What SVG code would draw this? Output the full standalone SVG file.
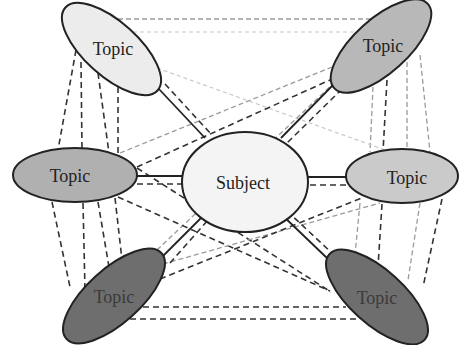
<svg xmlns="http://www.w3.org/2000/svg" width="462" height="345" viewBox="0 0 462 345">
<style>
.d{stroke:#333;stroke-width:1.6;stroke-dasharray:6,4;fill:none}
.g{stroke:#9a9a9a;stroke-width:1.3;stroke-dasharray:5,3;fill:none}
.l{stroke:#c8c8c8;stroke-width:1.2;stroke-dasharray:4,3;fill:none}
.s{stroke:#222;stroke-width:1.8;fill:none}
.n{stroke:#222;stroke-width:2}
text{font-family:"Liberation Serif","Times New Roman",serif;font-size:18px;text-anchor:middle;dominant-baseline:central;fill:#222}
.dk{fill:#3a3a3a}
</style>
<rect width="462" height="345" fill="#fff"/>
<g id="connectors">
<!-- TL-TR -->
<line class="g" x1="118" y1="19" x2="371" y2="19"/>
<line class="l" x1="133" y1="32" x2="366" y2="32"/>
<!-- TL-ML -->
<line class="d" x1="76" y1="50" x2="58" y2="150"/>
<line class="d" x1="81" y1="62" x2="82" y2="150"/>
<line class="d" x1="98" y1="73" x2="109" y2="153"/>
<line class="d" x1="118" y1="87" x2="118" y2="155"/>
<!-- ML-BL -->
<line class="d" x1="52" y1="202" x2="70" y2="287"/>
<line class="d" x1="83" y1="203" x2="85" y2="290"/>
<line class="d" x1="98" y1="202" x2="110" y2="273"/>
<line class="d" x1="115" y1="198" x2="122" y2="260"/>
<!-- TR-MR -->
<line class="g" x1="373" y1="87" x2="370" y2="152"/>
<line class="d" x1="387" y1="80" x2="383" y2="152"/>
<line class="g" x1="407" y1="62" x2="407" y2="150"/>
<line class="g" x1="420" y1="55" x2="430" y2="152"/>
<!-- MR-BR -->
<line class="g" x1="360" y1="203" x2="355" y2="255"/>
<line class="d" x1="382" y1="204" x2="378" y2="267"/>
<line class="g" x1="420" y1="203" x2="408" y2="280"/>
<line class="d" x1="442" y1="199" x2="423" y2="287"/>
<!-- BL-BR -->
<line class="d" x1="143" y1="307" x2="346" y2="307"/>
<line class="d" x1="130" y1="319" x2="356" y2="319"/>
<!-- ML-TR -->
<line class="g" x1="120" y1="153" x2="332" y2="67"/>
<line class="d" x1="137" y1="167" x2="330" y2="80"/>
<!-- TL-MR -->
<line class="l" x1="157" y1="68" x2="385" y2="150"/>
<!-- BL-TR -->
<line class="g" x1="157" y1="250" x2="335" y2="82"/>
<!-- ML-BR -->
<line class="d" x1="118" y1="197" x2="330" y2="291"/>
<line class="d" x1="137" y1="168" x2="331" y2="292"/>
<!-- BL-MR -->
<line class="g" x1="163" y1="264" x2="380" y2="203"/>
<line class="d" x1="160" y1="279" x2="364" y2="197"/>
<!-- Subject links -->
<line class="s" x1="158" y1="88" x2="205" y2="138"/>
<line class="d" x1="165" y1="84" x2="211" y2="134"/>
<line class="s" x1="333" y1="85" x2="281" y2="138"/>
<line class="d" x1="342" y1="89" x2="287" y2="143"/>
<line class="s" x1="137" y1="176" x2="184" y2="176"/>
<line class="d" x1="137" y1="184" x2="184" y2="184"/>
<line class="s" x1="299" y1="177" x2="346" y2="177"/>
<line class="d" x1="300" y1="185" x2="346" y2="185"/>
<line class="s" x1="163" y1="256" x2="203" y2="216"/>
<line class="d" x1="170" y1="263" x2="209" y2="219"/>
<line class="s" x1="281" y1="214" x2="328" y2="259"/>
<line class="d" x1="287" y1="211" x2="334" y2="255"/>
</g>
<g id="topic-tl">
<ellipse class="n" cx="0" cy="0" rx="62" ry="27" fill="#ececec" transform="translate(111.5,49) rotate(42)"/>
<text x="113" y="49">Topic</text>
</g>
<g id="topic-tr">
<ellipse class="n" cx="0" cy="0" rx="63" ry="27" fill="#b8b8b8" transform="translate(381,46) rotate(-42)"/>
<text x="383" y="46">Topic</text>
</g>
<g id="topic-ml">
<ellipse class="n" cx="75" cy="175" rx="62" ry="27" fill="#b0b0b0"/>
<text x="70" y="176">Topic</text>
</g>
<g id="topic-mr">
<ellipse class="n" cx="402" cy="176" rx="56" ry="27" fill="#cacaca"/>
<text x="407" y="178">Topic</text>
</g>
<g id="topic-bl">
<ellipse class="n" cx="0" cy="0" rx="64" ry="27" fill="#6e6e6e" transform="translate(114,296) rotate(-42)"/>
<text class="dk" x="114" y="297">Topic</text>
</g>
<g id="topic-br">
<ellipse class="n" cx="0" cy="0" rx="64" ry="27" fill="#6e6e6e" transform="translate(377,297) rotate(42)"/>
<text class="dk" x="377" y="298">Topic</text>
</g>
<g id="subject">
<ellipse class="n" cx="245" cy="182" rx="63" ry="50" fill="#f4f4f4"/>
<text x="243" y="183">Subject</text>
</g>
</svg>
